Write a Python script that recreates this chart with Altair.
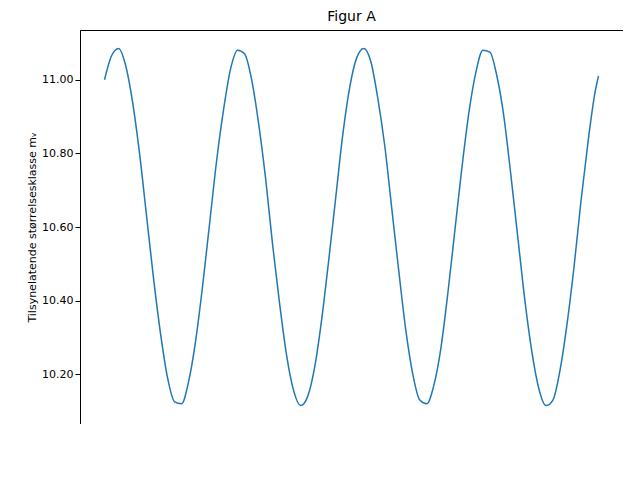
import altair as alt
import pandas as pd

days = list(range(0, 71)) + [70.5]
mag = [11.00, 11.065, 11.085, 11.04, 10.94, 10.80, 10.63, 10.46, 10.31, 10.19,
       10.125, 10.12, 10.18, 10.29, 10.44, 10.61, 10.78, 10.92, 11.03, 11.08,
       11.07, 11.00, 10.88, 10.73, 10.55, 10.39, 10.25, 10.155, 10.115, 10.14,
       10.22, 10.35, 10.51, 10.68, 10.85, 10.98, 11.06, 11.085, 11.05, 10.95,
       10.82, 10.65, 10.48, 10.32, 10.20, 10.13, 10.12, 10.17, 10.27, 10.42,
       10.59, 10.76, 10.91, 11.02, 11.08, 11.075, 11.01, 10.90, 10.74, 10.57,
       10.40, 10.26, 10.16, 10.115, 10.13, 10.21, 10.335, 10.49, 10.67, 10.83,
       10.965, 11.01]

df = pd.DataFrame({"t": days, "m": mag})

chart = alt.Chart(df).mark_line(color="#1f77b4", strokeWidth=1.5, clip=True, interpolate="monotone").encode(
    x=alt.X("t:Q", title="Observasjonstid (dager)",
            scale=alt.Scale(domain=[-3.5, 74], nice=False, zero=False),
            axis=alt.Axis(values=[0, 10, 20, 30, 40, 50, 60, 70], grid=False)),
    y=alt.Y("m:Q", title="Tilsynelatende størrelsesklasse mᵥ",
            scale=alt.Scale(domain=[10.065, 11.135], nice=False, zero=False),
            axis=alt.Axis(values=[10.2, 10.4, 10.6, 10.8, 11.0], format=".2f", grid=False)),
).properties(
    width=543, height=394,
    autosize="none",
    padding={"left": 72, "top": 22, "right": 0, "bottom": 0},
    title=alt.Title("Figur A", fontSize=14, fontWeight="normal", font="DejaVu Sans", offset=6),
).configure_view(stroke="black", strokeWidth=1).configure_axis(
    labelFont="DejaVu Sans", titleFont="DejaVu Sans", labelFontSize=11, titleFontSize=11,
    titleFontWeight="normal", domainColor="black", tickColor="black", labelColor="black",
    titleColor="black",
)

chart.save("out.html", embed_options={"renderer": "svg", "actions": False})
